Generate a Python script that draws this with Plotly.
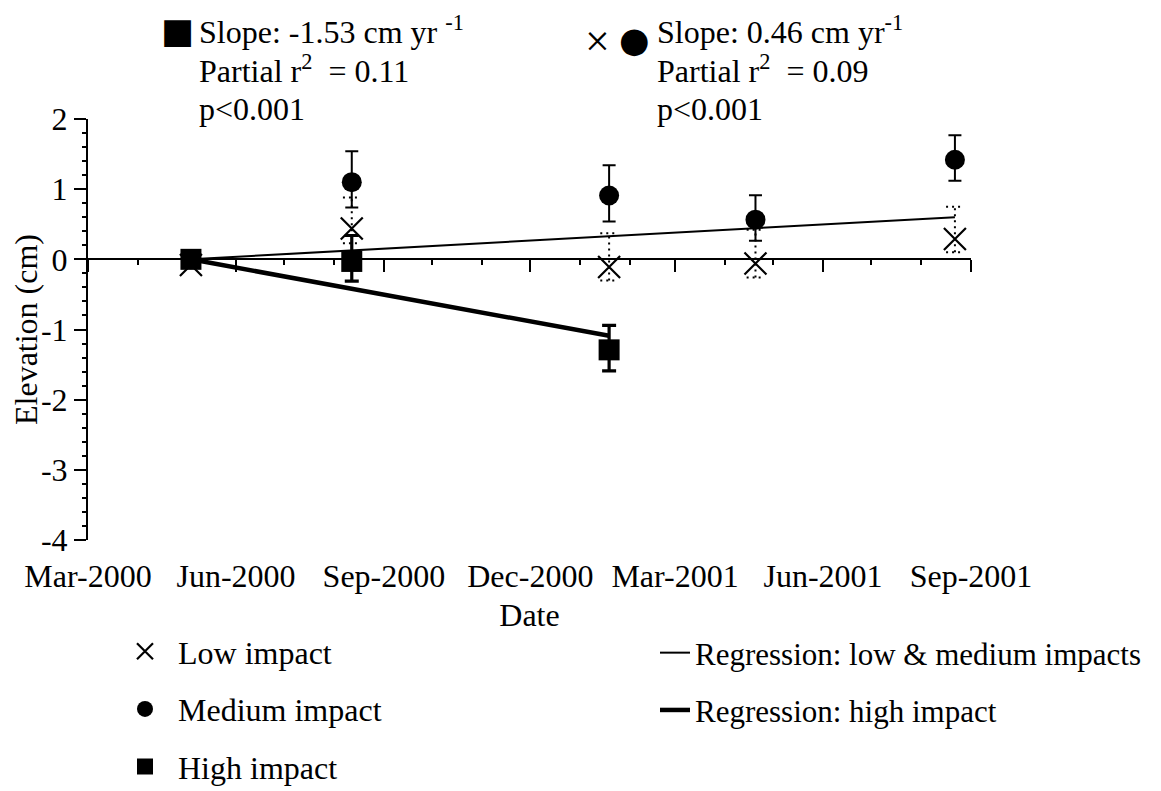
import plotly.graph_objects as go
import pandas as pd

# ---------------- data ----------------
dates = ['2000-05-04', '2000-08-12', '2001-01-19', '2001-04-20', '2001-08-22']

low = [-0.08, 0.44, -0.11, -0.06, 0.29]
low_err_plus = [0.0, 0.44, 0.48, 0.48, 0.46]
low_err_minus = [0.0, 0.21, 0.19, 0.20, 0.19]

medium = [0.0, 1.10, 0.91, 0.565, 1.42]
med_err_plus = [0.0, 0.44, 0.43, 0.35, 0.35]
med_err_minus = [0.0, 0.36, 0.37, 0.30, 0.30]

high_dates = dates[:3]
high = [0.0, -0.03, -1.29]
high_err_plus = [0.0, 0.37, 0.35]
high_err_minus = [0.0, 0.28, 0.30]

reg_lm_dates = [dates[0], dates[4]]
reg_lm = [0.0, 0.60]
reg_high_dates = [dates[0], dates[2]]
reg_high = [0.0, -1.09]

tick_vals = ['2000-03-01', '2000-06-01', '2000-09-01', '2000-12-01',
             '2001-03-01', '2001-06-01', '2001-09-01']
tick_text = ['Mar-2000', 'Jun-2000', 'Sep-2000', 'Dec-2000',
             'Mar-2001', 'Jun-2001', 'Sep-2001']
y_tick_vals = [-4, -3, -2, -1, 0, 1, 2]
y_tick_text = ['-4', '-3', '-2', '-1', '0', '1', '2']
x_range = ['2000-03-01', '2001-09-01']
y_range = [-4, 2]

# ---------------- layout geometry ----------------
# the page body has an 8px margin, so the figure is drawn 8px in from the corner
PAGE = 8
W, H = 1161 - 2 * PAGE, 791 - PAGE
L, R, T, B = 88 - PAGE, 971 - PAGE, 119 - PAGE, 540 - PAGE
FONT = 'Liberation Serif, Times New Roman, serif'
FS = 32


def px(x):
    """page x pixel -> paper coordinate"""
    return (x - PAGE - L) / (R - L)


def py(y):
    """page y pixel -> paper coordinate"""
    return (B - (y - PAGE)) / (B - T)


fig = go.Figure()

# regression lines
fig.add_trace(go.Scatter(x=reg_lm_dates, y=reg_lm, mode='lines',
                         line=dict(color='black', width=2),
                         name='Regression: low &amp; medium impacts',
                         legend='legend2', legendgroup='r1', legendrank=4))
fig.add_trace(go.Scatter(x=reg_high_dates, y=reg_high, mode='lines',
                         line=dict(color='black', width=4.5),
                         name='Regression: high impact',
                         legend='legend2', legendgroup='r2', legendrank=5))

# dotted error bars for low impact
cap = pd.Timedelta(days=5.5)
ex, ey = [], []
for d, v, p, m in zip(dates, low, low_err_plus, low_err_minus):
    if p == 0 and m == 0:
        continue
    t = pd.Timestamp(d)
    ex += [t, t, None, t - cap, t + cap, None, t - cap, t + cap, None]
    ey += [v - m, v + p, None, v + p, v + p, None, v - m, v - m, None]
fig.add_trace(go.Scatter(x=ex, y=ey, mode='lines', showlegend=False,
                         line=dict(color='black', width=2, dash='2px,4px'),
                         hoverinfo='skip'))

fig.add_trace(go.Scatter(x=dates, y=low, mode='markers', name='Low impact',
                         marker=dict(symbol='x-thin-open', size=22, color='black',
                                     line=dict(color='black', width=2.2)),
                         legendgroup='g1', legendrank=1))

fig.add_trace(go.Scatter(x=dates, y=medium, mode='markers', name='Medium impact',
                         marker=dict(symbol='circle', size=20, color='black'),
                         error_y=dict(type='data', symmetric=False, array=med_err_plus,
                                      arrayminus=med_err_minus, color='black',
                                      thickness=2, width=6.5),
                         legendgroup='g2', legendrank=2))

fig.add_trace(go.Scatter(x=high_dates, y=high, mode='markers', name='High impact',
                         marker=dict(symbol='square', size=21, color='black'),
                         error_y=dict(type='data', symmetric=False, array=high_err_plus,
                                      arrayminus=high_err_minus, color='black',
                                      thickness=3.2, width=7),
                         legendgroup='g3', legendrank=3))

# ---------------- annotations ----------------
ann = []


def add(text, x, y, xanchor='left', size=FS, family=FONT):
    ann.append(dict(text=text, x=px(x), y=py(y), xref='paper', yref='paper',
                    xanchor=xanchor, yanchor='middle', showarrow=False,
                    font=dict(family=family, size=size, color='black')))


SYM = 'DejaVu Sans, sans-serif'
rows = [30, 69.5, 109]
add('\u25A0', 177, 31, xanchor='center', size=35, family=SYM)
add('Slope: -1.53 cm yr <sup>-1</sup>', 197, rows[0])
add('Partial r<sup>2</sup>\u00a0 = 0.11', 197, rows[1])
add('p&lt;0.001', 197, rows[2])

add('\u00D7', 597, 41, xanchor='center', size=44)
add('\u25CF', 634, 40, xanchor='center', size=35, family=SYM)
add('Slope: 0.46 cm yr<sup>-1</sup>', 655, rows[0])
add('Partial r<sup>2</sup>\u00a0 = 0.09', 655, rows[1])
add('p&lt;0.001', 655, rows[2])

axis_font = dict(family=FONT, size=FS, color='black')

fig.update_layout(
    width=W, height=H, template='none',
    paper_bgcolor='white', plot_bgcolor='white',
    margin=dict(l=L, r=W - R, t=T, b=H - B, pad=0, autoexpand=False),
    font=dict(family=FONT, size=FS, color='black'),
    annotations=ann,
    xaxis=dict(type='date', range=x_range, tickvals=tick_vals, ticktext=tick_text,
               showline=False, showgrid=False, zeroline=False, ticks='',
               tickfont=axis_font, ticklabelstandoff=14,
               title=dict(text='Date', font=axis_font, standoff=10)),
    xaxis2=dict(type='date', range=x_range, overlaying='x', anchor='free',
                position=(0 - y_range[0]) / (y_range[1] - y_range[0]),
                side='bottom', showticklabels=False, showgrid=False, zeroline=False,
                showline=True, linecolor='black', linewidth=2,
                tickvals=tick_vals, ticks='outside', ticklen=12, tickwidth=2,
                tickcolor='black',
                minor=dict(dtick='M1', tick0='2000-03-01', ticks='outside', ticklen=5,
                           tickwidth=2, tickcolor='black', showgrid=False)),
    yaxis=dict(range=y_range, tickvals=y_tick_vals, ticktext=y_tick_text,
               showgrid=False, zeroline=False,
               showline=True, linecolor='black', linewidth=2,
               ticks='outside', ticklen=12, tickwidth=2, tickcolor='black',
               tickfont=axis_font,
               minor=dict(dtick=0.2, tick0=0, ticks='outside', ticklen=4, tickwidth=2,
                          tickcolor='black', showgrid=False),
               title=dict(text='Elevation (cm)', font=axis_font, standoff=9)),
    legend=dict(x=px(112), y=py(624), xanchor='left', yanchor='top',
                orientation='v', font=dict(family=FONT, size=FS, color='black'),
                bgcolor='rgba(0,0,0,0)', borderwidth=0, itemwidth=56,
                tracegroupgap=13, itemsizing='trace'),
    legend2=dict(x=px(655), y=py(626), xanchor='left', yanchor='top',
                 orientation='v', font=dict(family=FONT, size=31, color='black'),
                 bgcolor='rgba(0,0,0,0)', borderwidth=0, itemwidth=30,
                 tracegroupgap=14),
)

# invisible trace to activate the axis drawn through y = 0
fig.add_trace(go.Scatter(x=x_range, y=[None, None], xaxis='x2', showlegend=False,
                         hoverinfo='skip', mode='lines'))

fig.write_html('out.html')
